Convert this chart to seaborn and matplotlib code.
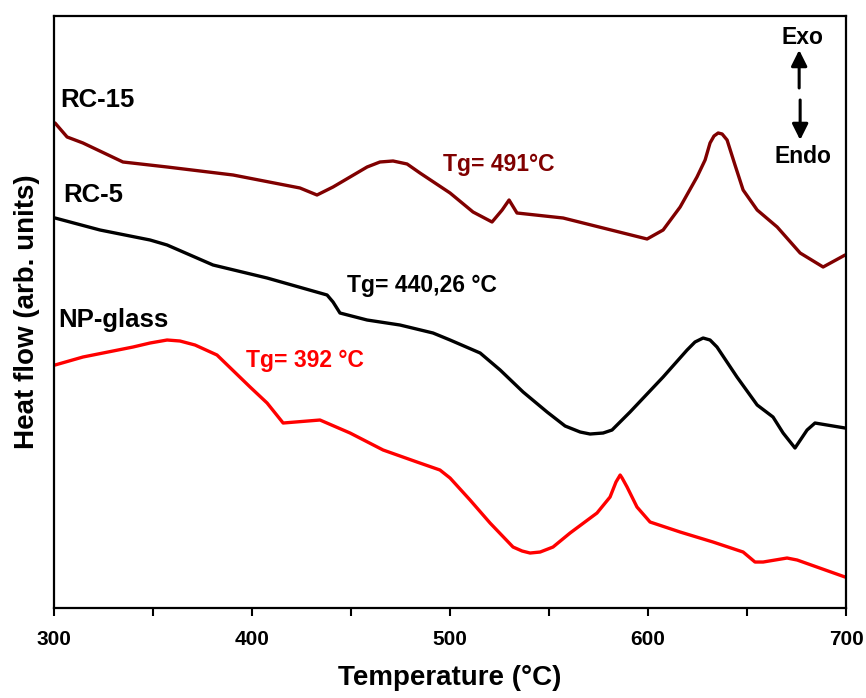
import matplotlib
matplotlib.use("Agg")
import matplotlib.pyplot as plt
import seaborn as sns
import pandas as pd

# ---- data ----
rc15_T = [300.5, 306.6, 314.6, 334.8, 357.1, 390.4, 424.2, 432.8, 440.9, 449.5, 458.1, 464.6,
          471.2, 478.3, 484.8, 500.0, 511.6, 521.2, 526.3, 529.8, 533.8, 557.1, 599.5, 607.6,
          616.2, 624.7, 628.8, 631.3, 633.3, 635.4, 637.4, 639.9, 643.9, 648.0, 655.1, 665.2,
          676.8, 688.4, 699.5]
rc15_y = [485, 471, 465, 446, 441, 433, 420, 413, 421, 431, 441, 446,
          447, 444, 435, 415, 396, 386, 398, 408, 395, 390, 369, 378,
          401, 431, 448, 465, 472, 475, 474, 468, 443, 418, 398, 381,
          355, 341, 353]

rc5_T = [300.5, 323.2, 348.5, 357.1, 380.3, 407.6, 437.9, 440.9, 444.4, 458.1, 474.7, 491.4,
         500.0, 515.2, 525.3, 536.9, 549.0, 558.1, 565.7, 570.7, 577.3, 581.8, 590.9, 607.6,
         619.7, 623.7, 627.8, 631.3, 634.8, 644.9, 655.1, 663.1, 668.2, 674.2, 680.3, 684.3,
         699.5]
rc5_y = [390, 378, 368, 363, 343, 330, 313, 306, 295, 288, 283, 275,
         268, 255, 238, 216, 196, 182, 176, 174, 175, 178, 196, 231,
         258, 266, 270, 268, 261, 231, 203, 191, 175, 160, 178, 185,
         180]

np_T = [300.5, 314.6, 339.9, 348.5, 357.1, 363.6, 371.2, 382.3, 399.0, 407.6, 415.7, 434.3,
        449.5, 466.2, 483.3, 494.9, 500.0, 510.1, 520.2, 531.8, 536.4, 540.4, 545.5, 552.0,
        560.6, 574.2, 580.8, 583.8, 585.9, 586.9, 589.4, 594.4, 601.0, 616.2, 632.8, 648.0,
        654.0, 658.1, 670.2, 675.3, 699.5]
np_y = [243, 251, 261, 265, 268, 267, 263, 253, 221, 205, 185, 188,
        175, 158, 146, 138, 130, 108, 85, 61, 57, 55, 56, 61,
        75, 95, 111, 126, 133, 130, 121, 101, 86, 76, 66, 56,
        46, 46, 50, 48, 31]

series = [("RC-15", rc15_T, rc15_y, "#800000"),
          ("RC-5", rc5_T, rc5_y, "#000000"),
          ("NP-glass", np_T, np_y, "#ff0000")]

sns.set_style("ticks")
plt.rcParams['font.family'] = ['Liberation Sans', 'DejaVu Sans']
plt.rcParams['font.weight'] = 'bold'
plt.rcParams['text.color'] = 'black'
plt.rcParams['axes.labelcolor'] = 'black'
plt.rcParams['xtick.color'] = 'black'

fig = plt.figure(figsize=(8.66, 6.98), dpi=100)
ax = fig.add_axes([0.0624, 0.1289, 0.9146, 0.8482])

for name, T, y, c in series:
    df = pd.DataFrame({"T": T, "y": y})
    sns.lineplot(data=df, x="T", y="y", ax=ax, color=c, linewidth=2.4, sort=False, estimator=None)

ax.set_xlim(300, 700)
ax.set_ylim(0, 592)
ax.set_xticks([300, 400, 500, 600, 700])
ax.set_xticks([350, 450, 550, 650], minor=True)
ax.set_yticks([])
ax.tick_params(axis='x', which='both', direction='out', length=6, width=1.5, labelsize=15, pad=10,
               colors='black')
for lab in ax.get_xticklabels():
    lab.set_fontweight('bold')
for sp in ax.spines.values():
    sp.set_linewidth(1.6)
    sp.set_color('black')

ax.set_xlabel("Temperature (°C)", fontsize=20, fontweight='bold', labelpad=11)
ax.set_ylabel("Heat flow (arb. units)", fontsize=20, fontweight='bold', labelpad=10)

ax.text(303, 508, "RC-15", fontsize=18.5, fontweight='bold', ha='left', va='center')
ax.text(304.5, 413, "RC-5", fontsize=18.5, fontweight='bold', ha='left', va='center')
ax.text(302, 288, "NP-glass", fontsize=18.5, fontweight='bold', ha='left', va='center')
ax.text(496.5, 443, "Tg= 491°C", fontsize=16.5, fontweight='bold', color="#800000", ha='left', va='center')
ax.text(448, 323, "Tg= 440,26 °C", fontsize=16.5, fontweight='bold', color="black", ha='left', va='center')
ax.text(397, 248, "Tg= 392 °C", fontsize=16.5, fontweight='bold', color="#ff0000", ha='left', va='center')

ax.text(678, 570, "Exo", fontsize=16.5, fontweight='bold', ha='center', va='center')
ax.text(678, 451, "Endo", fontsize=16.5, fontweight='bold', ha='center', va='center')
ax.annotate("", xy=(676.3, 558), xytext=(676.3, 520),
            arrowprops=dict(arrowstyle='-|>,head_length=0.6,head_width=0.3', color='black', lw=2.2,
                            mutation_scale=16, shrinkA=0, shrinkB=0))
ax.annotate("", xy=(676.8, 468), xytext=(676.8, 508),
            arrowprops=dict(arrowstyle='-|>,head_length=0.6,head_width=0.3', color='black', lw=2.2,
                            mutation_scale=16, shrinkA=0, shrinkB=0))

fig.savefig("out.png", dpi=100)
